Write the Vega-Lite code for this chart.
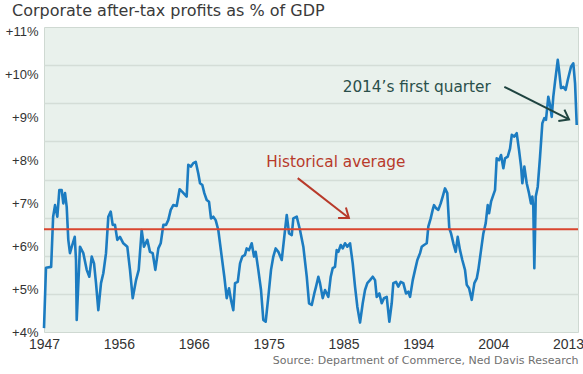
{
  "$schema": "https://vega.github.io/schema/vega-lite/v6.json",
  "width": 534,
  "height": 305,
  "autosize": {"type": "none"},
  "padding": {"left": 44, "top": 27, "right": 5, "bottom": 42},
  "background": "white",
  "config": {
    "view": {"fill": "#e9f1ec", "stroke": "#cfd9d2", "strokeWidth": 1},
    "axis": {"domain": false, "ticks": false}
  },
  "title": {
    "text": "Corporate after-tax profits as % of GDP",
    "anchor": "start",
    "frame": "group",
    "dx": -32,
    "dy": 16,
    "offset": 10,
    "baseline": "alphabetic",
    "font": "DejaVu Sans",
    "fontSize": 16,
    "fontWeight": "normal",
    "color": "#3a3a3a"
  },
  "resolve": {"axis": {"y": "independent"}},
  "layer": [
    {
      "data": {
        "values": [
          {"year": 1947.00, "pct": 4.09}, {"year": 1947.25, "pct": 5.50}, {"year": 1947.90, "pct": 5.52},
          {"year": 1948.15, "pct": 6.69}, {"year": 1948.39, "pct": 6.96}, {"year": 1948.68, "pct": 6.69},
          {"year": 1948.93, "pct": 7.31}, {"year": 1949.23, "pct": 7.31}, {"year": 1949.43, "pct": 7.00},
          {"year": 1949.65, "pct": 7.24}, {"year": 1949.86, "pct": 6.92}, {"year": 1950.06, "pct": 6.15},
          {"year": 1950.27, "pct": 5.84}, {"year": 1950.56, "pct": 6.03}, {"year": 1950.87, "pct": 6.22},
          {"year": 1951.03, "pct": 5.68}, {"year": 1951.12, "pct": 4.28}, {"year": 1951.53, "pct": 5.99},
          {"year": 1951.95, "pct": 5.84}, {"year": 1952.38, "pct": 5.45}, {"year": 1952.71, "pct": 5.29},
          {"year": 1953.01, "pct": 5.76}, {"year": 1953.30, "pct": 5.60}, {"year": 1953.55, "pct": 5.14},
          {"year": 1953.84, "pct": 4.51}, {"year": 1954.18, "pct": 5.14}, {"year": 1954.47, "pct": 5.37},
          {"year": 1954.81, "pct": 5.84}, {"year": 1955.10, "pct": 6.69}, {"year": 1955.40, "pct": 6.81},
          {"year": 1955.65, "pct": 6.50}, {"year": 1955.94, "pct": 6.50}, {"year": 1956.23, "pct": 6.15},
          {"year": 1956.57, "pct": 6.22}, {"year": 1956.99, "pct": 6.07}, {"year": 1957.49, "pct": 5.99},
          {"year": 1957.83, "pct": 5.45}, {"year": 1958.17, "pct": 4.79}, {"year": 1958.59, "pct": 5.21},
          {"year": 1958.93, "pct": 5.45}, {"year": 1959.30, "pct": 6.38}, {"year": 1959.59, "pct": 5.99},
          {"year": 1960.01, "pct": 6.15}, {"year": 1960.35, "pct": 5.87}, {"year": 1960.69, "pct": 5.84},
          {"year": 1961.02, "pct": 5.45}, {"year": 1961.40, "pct": 5.95}, {"year": 1961.70, "pct": 6.07},
          {"year": 1962.03, "pct": 6.50}, {"year": 1962.37, "pct": 6.50}, {"year": 1962.65, "pct": 6.61},
          {"year": 1962.96, "pct": 6.85}, {"year": 1963.28, "pct": 6.96}, {"year": 1963.71, "pct": 6.94},
          {"year": 1964.08, "pct": 7.33}, {"year": 1964.42, "pct": 7.27}, {"year": 1964.97, "pct": 7.16},
          {"year": 1965.17, "pct": 7.90}, {"year": 1965.51, "pct": 7.86}, {"year": 1965.80, "pct": 7.94},
          {"year": 1966.11, "pct": 7.97}, {"year": 1966.43, "pct": 7.70}, {"year": 1966.65, "pct": 7.47},
          {"year": 1966.94, "pct": 7.43}, {"year": 1967.19, "pct": 7.24}, {"year": 1967.49, "pct": 7.08},
          {"year": 1967.78, "pct": 7.04}, {"year": 1968.03, "pct": 6.65}, {"year": 1968.32, "pct": 6.69},
          {"year": 1968.62, "pct": 6.61}, {"year": 1968.95, "pct": 6.38}, {"year": 1969.38, "pct": 5.76},
          {"year": 1969.71, "pct": 5.29}, {"year": 1970.01, "pct": 4.79}, {"year": 1970.30, "pct": 5.02},
          {"year": 1970.55, "pct": 4.75}, {"year": 1970.84, "pct": 4.51}, {"year": 1971.06, "pct": 5.14},
          {"year": 1971.40, "pct": 5.17}, {"year": 1971.69, "pct": 5.60}, {"year": 1971.97, "pct": 5.76},
          {"year": 1972.31, "pct": 5.80}, {"year": 1972.53, "pct": 5.95}, {"year": 1972.82, "pct": 5.91},
          {"year": 1973.16, "pct": 6.07}, {"year": 1973.45, "pct": 5.76}, {"year": 1973.66, "pct": 5.87},
          {"year": 1973.99, "pct": 5.45}, {"year": 1974.33, "pct": 4.98}, {"year": 1974.62, "pct": 4.28},
          {"year": 1974.92, "pct": 4.24}, {"year": 1975.25, "pct": 4.82}, {"year": 1975.59, "pct": 5.45},
          {"year": 1975.88, "pct": 5.76}, {"year": 1976.18, "pct": 5.95}, {"year": 1976.51, "pct": 5.87},
          {"year": 1976.94, "pct": 5.68}, {"year": 1977.26, "pct": 6.22}, {"year": 1977.57, "pct": 6.73},
          {"year": 1977.86, "pct": 6.30}, {"year": 1978.20, "pct": 6.26}, {"year": 1978.40, "pct": 6.65},
          {"year": 1978.83, "pct": 6.69}, {"year": 1979.24, "pct": 6.38}, {"year": 1979.66, "pct": 5.99},
          {"year": 1980.09, "pct": 5.29}, {"year": 1980.38, "pct": 4.67}, {"year": 1980.72, "pct": 4.63},
          {"year": 1981.04, "pct": 4.90}, {"year": 1981.26, "pct": 5.06}, {"year": 1981.55, "pct": 5.29},
          {"year": 1981.76, "pct": 5.14}, {"year": 1982.10, "pct": 4.79}, {"year": 1982.39, "pct": 4.98},
          {"year": 1982.81, "pct": 4.82}, {"year": 1983.11, "pct": 5.29}, {"year": 1983.36, "pct": 5.49},
          {"year": 1983.65, "pct": 5.52}, {"year": 1983.86, "pct": 5.91}, {"year": 1984.07, "pct": 5.87},
          {"year": 1984.37, "pct": 6.03}, {"year": 1984.62, "pct": 5.95}, {"year": 1984.91, "pct": 6.07},
          {"year": 1985.20, "pct": 5.99}, {"year": 1985.54, "pct": 6.07}, {"year": 1985.88, "pct": 5.60},
          {"year": 1986.17, "pct": 5.06}, {"year": 1986.46, "pct": 4.59}, {"year": 1986.80, "pct": 4.22},
          {"year": 1987.14, "pct": 4.67}, {"year": 1987.43, "pct": 4.98}, {"year": 1987.72, "pct": 5.14},
          {"year": 1988.06, "pct": 5.21}, {"year": 1988.40, "pct": 5.29}, {"year": 1988.69, "pct": 5.21},
          {"year": 1988.90, "pct": 4.82}, {"year": 1989.23, "pct": 4.90}, {"year": 1989.53, "pct": 4.67},
          {"year": 1989.82, "pct": 4.79}, {"year": 1990.16, "pct": 4.82}, {"year": 1990.49, "pct": 4.24},
          {"year": 1990.79, "pct": 4.67}, {"year": 1990.99, "pct": 5.14}, {"year": 1991.33, "pct": 5.17},
          {"year": 1991.62, "pct": 5.06}, {"year": 1991.93, "pct": 5.17}, {"year": 1992.25, "pct": 5.14},
          {"year": 1992.59, "pct": 4.90}, {"year": 1992.88, "pct": 4.94}, {"year": 1993.10, "pct": 4.82},
          {"year": 1993.44, "pct": 5.21}, {"year": 1993.73, "pct": 5.45}, {"year": 1994.02, "pct": 5.68},
          {"year": 1994.36, "pct": 5.84}, {"year": 1994.57, "pct": 5.99}, {"year": 1994.86, "pct": 6.03},
          {"year": 1995.20, "pct": 6.07}, {"year": 1995.40, "pct": 6.46}, {"year": 1995.70, "pct": 6.65},
          {"year": 1995.95, "pct": 6.85}, {"year": 1996.12, "pct": 6.96}, {"year": 1996.37, "pct": 6.89},
          {"year": 1996.66, "pct": 6.85}, {"year": 1996.96, "pct": 7.00}, {"year": 1997.21, "pct": 7.16},
          {"year": 1997.50, "pct": 7.35}, {"year": 1997.79, "pct": 7.24}, {"year": 1998.04, "pct": 6.42},
          {"year": 1998.26, "pct": 6.30}, {"year": 1998.55, "pct": 6.07}, {"year": 1998.85, "pct": 5.87},
          {"year": 1999.10, "pct": 6.22}, {"year": 1999.39, "pct": 5.91}, {"year": 1999.68, "pct": 5.68},
          {"year": 2000.02, "pct": 5.45}, {"year": 2000.24, "pct": 5.10}, {"year": 2000.53, "pct": 5.02},
          {"year": 2000.87, "pct": 4.75}, {"year": 2001.20, "pct": 5.14}, {"year": 2001.50, "pct": 5.25},
          {"year": 2001.70, "pct": 5.45}, {"year": 2002.04, "pct": 5.91}, {"year": 2002.33, "pct": 6.30},
          {"year": 2002.63, "pct": 6.54}, {"year": 2002.88, "pct": 6.96}, {"year": 2003.05, "pct": 6.77},
          {"year": 2003.30, "pct": 7.04}, {"year": 2003.59, "pct": 7.20}, {"year": 2003.80, "pct": 7.31},
          {"year": 2004.01, "pct": 8.05}, {"year": 2004.31, "pct": 8.01}, {"year": 2004.56, "pct": 8.13},
          {"year": 2004.85, "pct": 7.82}, {"year": 2005.06, "pct": 8.05}, {"year": 2005.40, "pct": 8.09},
          {"year": 2005.69, "pct": 8.28}, {"year": 2005.91, "pct": 8.60}, {"year": 2006.23, "pct": 8.56},
          {"year": 2006.53, "pct": 8.64}, {"year": 2006.82, "pct": 8.25}, {"year": 2007.08, "pct": 7.86},
          {"year": 2007.24, "pct": 7.47}, {"year": 2007.49, "pct": 7.86}, {"year": 2007.79, "pct": 7.47},
          {"year": 2008.08, "pct": 7.24}, {"year": 2008.33, "pct": 7.00}, {"year": 2008.50, "pct": 7.16},
          {"year": 2008.62, "pct": 6.92}, {"year": 2008.75, "pct": 5.49}, {"year": 2008.93, "pct": 7.16},
          {"year": 2009.18, "pct": 7.39}, {"year": 2009.47, "pct": 8.09}, {"year": 2009.76, "pct": 8.87},
          {"year": 2010.01, "pct": 8.99}, {"year": 2010.22, "pct": 8.95}, {"year": 2010.51, "pct": 9.49},
          {"year": 2010.77, "pct": 9.26}, {"year": 2010.94, "pct": 9.02}, {"year": 2011.14, "pct": 9.49},
          {"year": 2011.36, "pct": 9.84}, {"year": 2011.70, "pct": 10.35}, {"year": 2011.86, "pct": 10.11},
          {"year": 2012.11, "pct": 9.69}, {"year": 2012.40, "pct": 9.72}, {"year": 2012.70, "pct": 9.65},
          {"year": 2012.96, "pct": 9.88}, {"year": 2013.37, "pct": 10.19}, {"year": 2013.66, "pct": 10.27},
          {"year": 2013.88, "pct": 9.80}, {"year": 2014.09, "pct": 8.83}
        ]
      },
      "mark": {"type": "line", "color": "#1c7cc1", "strokeWidth": 2.6, "strokeJoin": "round"},
      "encoding": {
        "x": {
          "field": "year", "type": "quantitative",
          "scale": {"domain": [1947, 2014.25], "nice": false, "zero": false},
          "axis": {
            "values": [1947, 1956.428571, 1965.857143, 1975.285714, 1984.714286, 1994.142857, 2003.571429, 2013],
            "labelExpr": "format(datum.value, '.0f')",
            "grid": false,
            "labelFont": "Liberation Sans", "labelFontSize": 14, "labelColor": "#333333",
            "labelPadding": 5, "labelFlush": false, "labelOverlap": false,
            "title": "Source: Department of Commerce, Ned Davis Research",
            "titleAnchor": "end", "titleFont": "DejaVu Sans", "titleFontSize": 11,
            "titleFontWeight": "normal", "titleColor": "#707070", "titlePadding": 3
          }
        },
        "y": {
          "field": "pct", "type": "quantitative",
          "scale": {"domain": [4, 11.116], "nice": false, "zero": false},
          "axis": {
            "values": [4, 5, 6, 7, 8, 9, 10, 11],
            "labelExpr": "'+' + datum.value + '%'",
            "grid": false,
            "labelFont": "Liberation Sans", "labelFontSize": 13, "labelColor": "#333333",
            "labelPadding": 6, "labelFlush": false, "labelOverlap": false,
            "title": null
          }
        }
      }
    },
    {
      "data": {"values": [{"avg": 6.4}]},
      "mark": {"type": "rule", "color": "#d9452f", "strokeWidth": 2},
      "encoding": {
        "y": {
          "field": "avg", "type": "quantitative",
          "axis": {
            "orient": "right",
            "values": [4.8895, 5.779, 6.6685, 7.558, 8.4475, 9.337, 10.2265],
            "grid": true, "gridColor": "#d4ddd7", "gridWidth": 1.5,
            "labels": false, "title": null
          }
        }
      }
    },
    {
      "data": {"values": [{"year": 1978.95, "pct": 7.59, "year2": 1985.4, "pct2": 6.66}]},
      "mark": {"type": "rule", "color": "#b83a2a", "strokeWidth": 2},
      "encoding": {
        "x": {"field": "year", "type": "quantitative"},
        "y": {"field": "pct", "type": "quantitative", "axis": null},
        "x2": {"field": "year2"},
        "y2": {"field": "pct2"}
      }
    },
    {
      "data": {"values": [{"year": 1985.4, "pct": 6.66}]},
      "mark": {"type": "point", "shape": "M-0.75,1L0,0L0.75,1", "filled": false, "size": 300, "angle": 127, "color": "#b83a2a", "strokeWidth": 2, "opacity": 1},
      "encoding": {
        "x": {"field": "year", "type": "quantitative"},
        "y": {"field": "pct", "type": "quantitative", "axis": null}
      }
    },
    {
      "data": {"values": [{"year": 2004.97, "pct": 9.72, "year2": 2013.12, "pct2": 8.96}]},
      "mark": {"type": "rule", "color": "#1f4440", "strokeWidth": 2},
      "encoding": {
        "x": {"field": "year", "type": "quantitative"},
        "y": {"field": "pct", "type": "quantitative", "axis": null},
        "x2": {"field": "year2"},
        "y2": {"field": "pct2"}
      }
    },
    {
      "data": {"values": [{"year": 2013.12, "pct": 8.96}]},
      "mark": {"type": "point", "shape": "M-0.75,1L0,0L0.75,1", "filled": false, "size": 300, "angle": 118, "color": "#1f4440", "strokeWidth": 2, "opacity": 1},
      "encoding": {
        "x": {"field": "year", "type": "quantitative"},
        "y": {"field": "pct", "type": "quantitative", "axis": null}
      }
    },
    {
      "data": {"values": [
        {"year": 1983.75, "pct": 7.86, "label": "Historical average", "kind": "avg"},
        {"year": 1993.94, "pct": 9.61, "label": "2014’s first quarter", "kind": "q1"}
      ]},
      "mark": {"type": "text", "font": "DejaVu Sans", "fontSize": 15.3, "baseline": "alphabetic", "align": "center"},
      "encoding": {
        "x": {"field": "year", "type": "quantitative"},
        "y": {"field": "pct", "type": "quantitative", "axis": null},
        "text": {"field": "label"},
        "color": {"field": "kind", "type": "nominal", "scale": {"domain": ["avg", "q1"], "range": ["#b83a2a", "#2a4f4a"]}, "legend": null}
      }
    }
  ]
}
